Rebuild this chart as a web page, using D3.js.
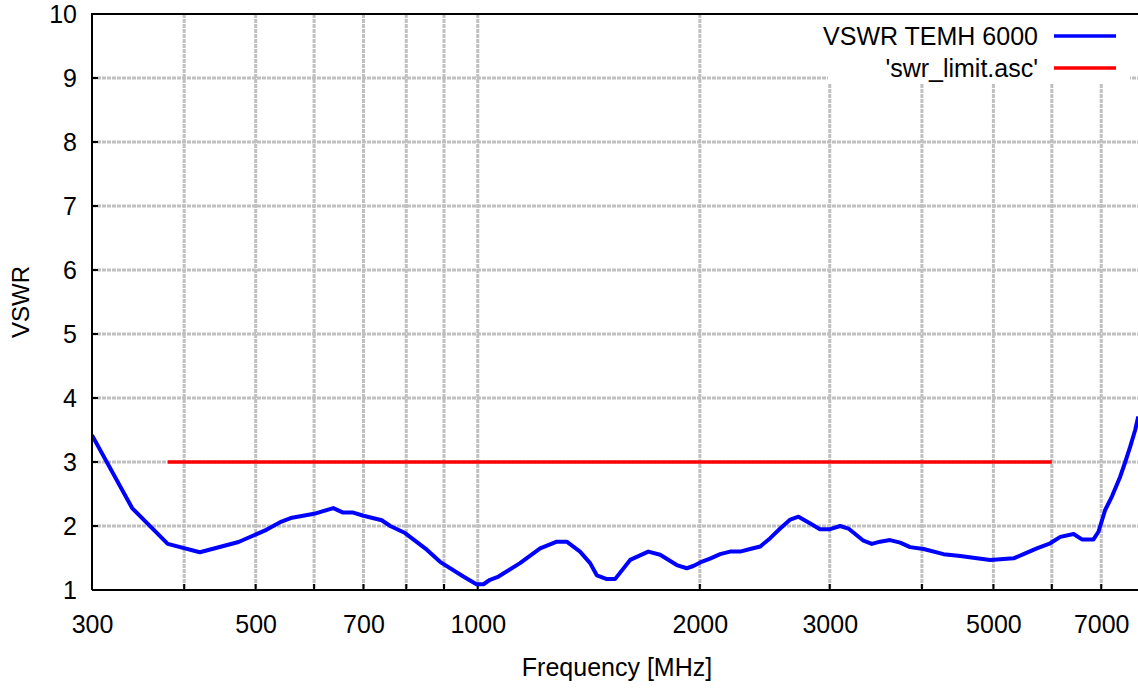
<!DOCTYPE html>
<html>
<head>
<meta charset="utf-8">
<script src="https://cdn.jsdelivr.net/npm/d3@7"></script>
<style>
  html, body { margin: 0; padding: 0; background: #fff; }
  svg { display: block; font-family: "Liberation Sans", Arial, sans-serif; }
</style>
</head>
<body>
<svg id="chart" width="1138" height="691"></svg>
<script>
// ---- data ----
const vswrFreq = [300, 340, 380, 420, 474, 517, 542, 560, 600, 637, 657, 678, 700, 741, 761, 797, 853, 889, 956, 996, 1018, 1039, 1067, 1141, 1215, 1280, 1320, 1376, 1420, 1450, 1496, 1535, 1609, 1703, 1767, 1861, 1920, 1960, 2002, 2065, 2131, 2198, 2268, 2340, 2415, 2491, 2570, 2652, 2721, 2823, 2910, 3003, 3099, 3180, 3333, 3421, 3510, 3621, 3737, 3855, 4021, 4279, 4509, 4750, 4950, 5107, 5325, 5493, 5726, 5970, 6161, 6421, 6591, 6833, 6940, 7087, 7237, 7427, 7545, 7663, 7783, 7858];
const vswrValue = [3.42, 2.28, 1.72, 1.59, 1.75, 1.94, 2.07, 2.13, 2.19, 2.28, 2.21, 2.21, 2.16, 2.09, 2.0, 1.89, 1.63, 1.44, 1.21, 1.09, 1.09, 1.16, 1.21, 1.42, 1.65, 1.755, 1.755, 1.6, 1.42, 1.23, 1.17, 1.17, 1.47, 1.6, 1.55, 1.39, 1.34, 1.375, 1.43, 1.49, 1.56, 1.6, 1.6, 1.64, 1.68, 1.81, 1.96, 2.10, 2.145, 2.04, 1.95, 1.95, 2.0, 1.96, 1.77, 1.72, 1.755, 1.78, 1.74, 1.67, 1.64, 1.56, 1.53, 1.495, 1.47, 1.48, 1.495, 1.56, 1.65, 1.73, 1.83, 1.875, 1.79, 1.79, 1.91, 2.25, 2.46, 2.77, 3.0, 3.24, 3.5, 3.71];
const limitFreq = [380, 6000];
const limitValue = [3, 3];
const xTickValues = [300, 500, 700, 1000, 2000, 3000, 5000, 7000];
const xGridValues = [300, 400, 500, 600, 700, 800, 900, 1000, 2000, 3000, 4000, 5000, 6000, 7000];
const yTickValues = [1, 2, 3, 4, 5, 6, 7, 8, 9, 10];
const seriesNames = ["VSWR TEMH 6000", "'swr_limit.asc'"];
const seriesColors = ["#0000ff", "#ff0000"];
const xTitle = "Frequency [MHz]";
const yTitle = "VSWR";

// ---- layout ----
const FONT = "Liberation Sans, Arial, sans-serif";
const svg = d3.select("#chart");
const L = 92, T = 14, B = 590, R = 1144;
const x = d3.scaleLog().domain([300, 8000]).range([L, R]);
const y = d3.scaleLinear().domain([1, 10]).range([B, T]);

svg.append("defs").append("clipPath").attr("id", "plotclip")
  .append("rect").attr("x", L).attr("y", T).attr("width", R - L).attr("height", B - T);

// grid
const grid = svg.append("g").attr("stroke", "#c0c0c0").attr("stroke-width", 3).attr("stroke-dasharray", "4,1");
grid.selectAll("line.v").data(xGridValues.slice(1)).join("line")
  .attr("x1", d => x(d)).attr("x2", d => x(d)).attr("y1", T).attr("y2", B);
grid.selectAll("line.h").data(yTickValues.slice(1, -1)).join("line")
  .attr("x1", L).attr("x2", R).attr("y1", d => y(d)).attr("y2", d => y(d));

// axes (labels only; ticks drawn inward below)
const xAxis = d3.axisBottom(x).tickValues(xTickValues).tickFormat(d3.format("d")).tickSize(0).tickPadding(25);
const gx = svg.append("g").attr("transform", `translate(0,${B})`).call(xAxis);
gx.select(".domain").remove();
gx.selectAll("text").attr("font-size", 25).attr("fill", "#000").attr("font-family", FONT);

const yAxis = d3.axisLeft(y).tickValues(yTickValues).tickFormat(d3.format("d")).tickSize(0).tickPadding(15);
const gy = svg.append("g").attr("transform", `translate(${L},0)`).call(yAxis);
gy.select(".domain").remove();
gy.selectAll("text").attr("font-size", 25).attr("fill", "#000").attr("font-family", FONT);

// inward tick marks
const ticks = svg.append("g").attr("stroke", "#000").attr("stroke-width", 2);
ticks.selectAll("line.xt").data(xGridValues).join("line")
  .attr("x1", d => x(d)).attr("x2", d => x(d)).attr("y1", B).attr("y2", B - 6);
ticks.selectAll("line.yt").data(yTickValues).join("line")
  .attr("x1", L).attr("x2", L + 6).attr("y1", d => y(d)).attr("y2", d => y(d));

// legend background
svg.append("rect").attr("x", 828).attr("y", T + 1).attr("width", 302).attr("height", 69).attr("fill", "#fff");

// data lines
const line = d3.line().x(d => x(d[0])).y(d => y(d[1]));
const plot = svg.append("g").attr("clip-path", "url(#plotclip)");
plot.append("path").datum(limitFreq.map((f, i) => [f, limitValue[i]]))
  .attr("d", line).attr("fill", "none").attr("stroke", seriesColors[1]).attr("stroke-width", 3.5);
plot.append("path").datum(vswrFreq.map((f, i) => [f, vswrValue[i]]))
  .attr("d", line).attr("fill", "none").attr("stroke", seriesColors[0]).attr("stroke-width", 4).attr("stroke-linejoin", "round");

// border
svg.append("path").attr("d", `M${L},${B}V${T}H${R}M${L},${B}H${R}`)
  .attr("fill", "none").attr("stroke", "#000").attr("stroke-width", 2);

// legend
const lg = svg.append("g").attr("font-family", FONT);
seriesNames.forEach((name, i) => {
  const yy = 36 + i * 32;
  lg.append("text").attr("x", 1038).attr("y", yy + 9).attr("text-anchor", "end")
    .attr("font-size", 25).text(name);
  lg.append("line").attr("x1", 1054).attr("x2", 1116).attr("y1", yy).attr("y2", yy)
    .attr("stroke", seriesColors[i]).attr("stroke-width", 3.5);
});

// titles
svg.append("text").attr("x", 617).attr("y", 676).attr("text-anchor", "middle").attr("font-size", 25).attr("font-family", FONT).text(xTitle);
svg.append("text").attr("transform", "translate(29,302) rotate(-90)").attr("text-anchor", "middle").attr("font-size", 24).attr("font-family", FONT).text(yTitle);
</script>
</body>
</html>
